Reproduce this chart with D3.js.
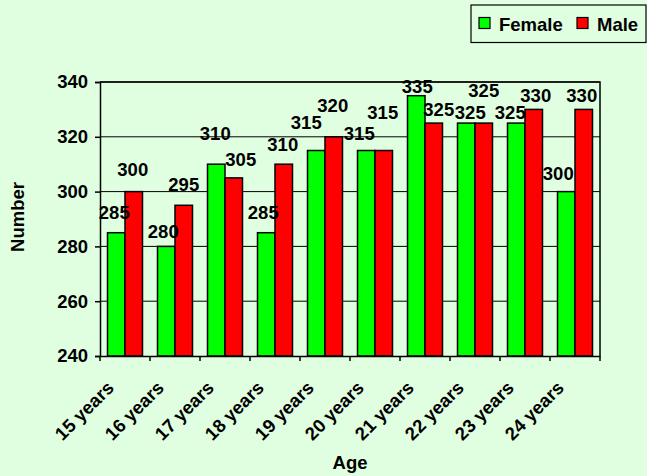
<!DOCTYPE html>
<html>
<head>
<meta charset="utf-8">
<script src="https://cdn.jsdelivr.net/npm/d3@7"></script>
<style>
  html, body { margin: 0; padding: 0; background: #e0ffe0; }
  svg { display: block; font-family: "Liberation Sans", Arial, sans-serif; font-weight: bold; }
</style>
</head>
<body>
<svg id="chart" width="647" height="476"></svg>
<script>
// ---- data ----
const categories = ["15 years","16 years","17 years","18 years","19 years","20 years","21 years","22 years","23 years","24 years"];
const series = ["Female","Male"];
const female = [285, 280, 310, 285, 315, 315, 335, 325, 325, 300];
const male   = [300, 295, 305, 310, 320, 315, 325, 325, 330, 330];
const yTicks = [240, 260, 280, 300, 320, 340];
const colors = ["#00ff00", "#ff0000"];
const xTitle = "Age";
const yTitle = "Number";

// ---- label nudges (layout only, px: [dx, rise above bar top]) ----
const nudgeF = [[-2,20],[-3,15],[-1,31],[-3,20],[-10,28],[-7,17],[1,9],[4,11],[-6,11],[-8,18]];
const nudgeM = [[-1,22],[0,21],[7,19],[-1,20],[-1,31],[-1,38],[5,14],[0,33],[2,14],[-2,14]];

const FS = 18.5;
const svg = d3.select("#chart");
const W = 647, H = 476;
const plot = {left: 100, right: 600, top: 82, bottom: 356};

svg.append("rect").attr("width", W).attr("height", H).attr("fill", "#e0ffe0");

const x = d3.scaleBand().domain(categories).range([plot.left, plot.right]).padding(0);
const xs = d3.scaleBand().domain(series).range([x.bandwidth()*0.15, x.bandwidth()*0.85]).padding(0);
const y = d3.scaleLinear().domain([240, 340]).range([plot.bottom, plot.top]);

// gridlines
svg.append("g").selectAll("line").data(yTicks.slice(1)).join("line")
  .attr("x1", plot.left).attr("x2", plot.right)
  .attr("y1", d => y(d)).attr("y2", d => y(d))
  .attr("stroke", "#000").attr("stroke-width", 1);

// plot border (top & right)
svg.append("path")
  .attr("d", `M${plot.left},${plot.top}H${plot.right}V${plot.bottom}`)
  .attr("fill", "none").attr("stroke", "#000").attr("stroke-width", 1.5);

// bars
const seriesData = [female, male];
const barG = svg.append("g");
series.forEach((s, si) => {
  barG.selectAll("rect.s" + si).data(seriesData[si]).join("rect")
    .attr("class", "s" + si)
    .attr("x", (d, i) => x(categories[i]) + xs(s))
    .attr("width", xs.bandwidth())
    .attr("y", d => y(d))
    .attr("height", d => y(240) - y(d))
    .attr("fill", colors[si])
    .attr("stroke", "#000").attr("stroke-width", 1.5);
});

// value labels
const nudges = [nudgeF, nudgeM];
series.forEach((s, si) => {
  svg.append("g").selectAll("text").data(seriesData[si]).join("text")
    .attr("x", (d, i) => x(categories[i]) + xs(s) + xs.bandwidth()/2 + nudges[si][i][0])
    .attr("y", (d, i) => y(d) - nudges[si][i][1])
    .attr("dy", "0.36em")
    .attr("text-anchor", "middle")
    .attr("font-size", FS)
    .attr("fill", "#000")
    .text(d => d);
});

// y axis
const yAxis = d3.axisLeft(y).tickValues(yTicks).tickSize(5).tickPadding(7);
const yg = svg.append("g").attr("transform", `translate(${plot.left},0)`).call(yAxis);
yg.select(".domain").attr("stroke", "#000").attr("stroke-width", 1.5);
yg.selectAll(".tick line").attr("stroke", "#000").attr("stroke-width", 1.5);
yg.selectAll(".tick text").attr("font-size", FS).attr("font-family", "Liberation Sans, Arial, sans-serif")
  .attr("font-weight", "bold").attr("fill", "#000");

// x axis
const xAxis = d3.axisBottom(x).tickSize(0).tickFormat("");
const xg = svg.append("g").attr("transform", `translate(0,${plot.bottom})`).call(xAxis);
xg.select(".domain").attr("stroke", "#000").attr("stroke-width", 1.5);
xg.selectAll(".tick").remove();
// boundary ticks
const bounds = categories.map(c => x(c)).concat([plot.right]);
svg.append("g").selectAll("line").data(bounds).join("line")
  .attr("x1", d => d).attr("x2", d => d)
  .attr("y1", plot.bottom).attr("y2", plot.bottom + 5)
  .attr("stroke", "#000").attr("stroke-width", 1.5);
// rotated labels
svg.append("g").selectAll("text").data(categories).join("text")
  .attr("transform", d => `translate(${x(d) + x.bandwidth()/2 - 10},${plot.bottom + 33}) rotate(-45)`)
  .attr("text-anchor", "end")
  .attr("font-size", FS)
  .attr("fill", "#000")
  .text(d => d);

// axis titles
svg.append("text")
  .attr("x", (plot.left + plot.right)/2).attr("y", 469)
  .attr("text-anchor", "middle").attr("font-size", FS).attr("fill", "#000")
  .text(xTitle);
svg.append("text")
  .attr("transform", `translate(24,${(plot.top + plot.bottom)/2 - 2}) rotate(-90)`)
  .attr("text-anchor", "middle").attr("font-size", FS).attr("fill", "#000")
  .text(yTitle);

// legend
const lg = svg.append("g");
lg.append("rect").attr("x", 471).attr("y", 5).attr("width", 175).attr("height", 37.5)
  .attr("fill", "#e0ffe0").attr("stroke", "#000").attr("stroke-width", 1.2);
const legendX = [479, 577];
series.forEach((s, si) => {
  lg.append("rect").attr("x", legendX[si]).attr("y", 17.5).attr("width", 11).attr("height", 11)
    .attr("fill", colors[si]).attr("stroke", "#000").attr("stroke-width", 1.2);
  lg.append("text").attr("x", legendX[si] + 20).attr("y", 30.5)
    .attr("font-size", FS).attr("fill", "#000").text(s);
});
</script>
</body>
</html>
